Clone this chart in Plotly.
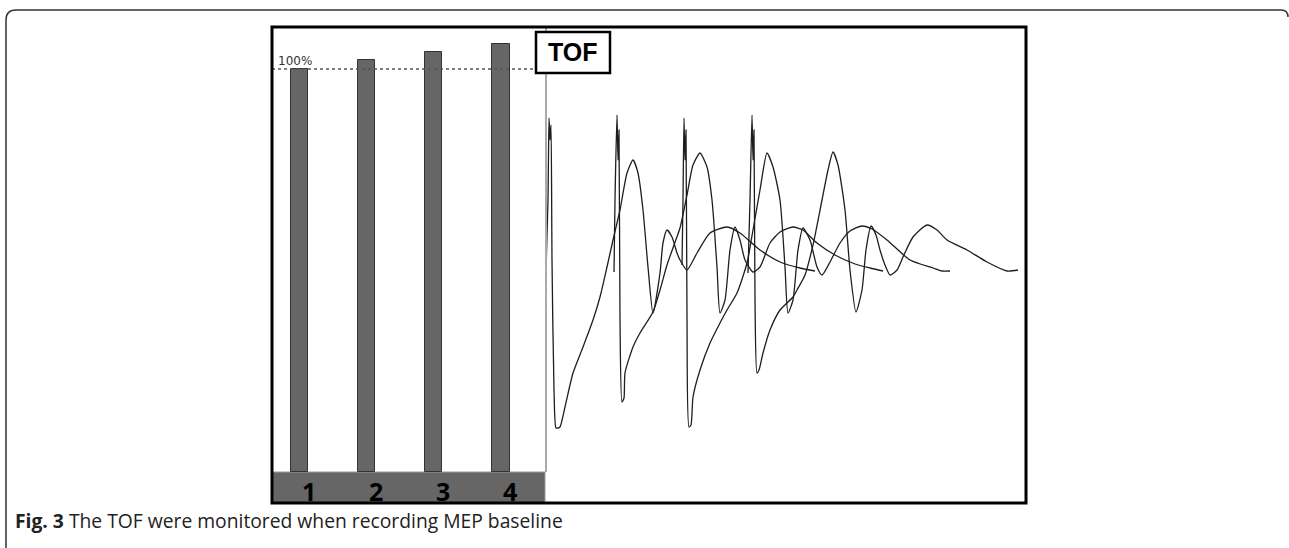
import plotly.graph_objects as go

W, H = 1289, 548

# ---------------- data ----------------
tof_labels = ["1", "2", "3", "4"]
tof_positions = [1, 2, 3, 4]
tof_percent = [100.0, 102.2, 104.2, 106.2]

# MEP waveforms (time in samples, amplitude in arbitrary units)
w1_t = [1, 3, 4, 5, 6, 7, 9, 11, 13, 15, 20, 28, 38, 48, 55, 62, 68, 75, 82, 88, 93, 98, 103, 108,
        115, 118, 122, 127, 132, 135, 142, 152, 165, 182, 195, 215, 235, 255, 270]
w1_v = [-2, 70, 152, 130, 145, 10, -120, -158, -158, -157, -137, -103, -77, -50, -27, 3, 30, 60, 97,
        110, 97, 60, 3, -43, -3, 27, 40, 33, 17, 10, 0, 17, 37, 43, 37, 20, 8, 2, -1]

w2_t = [69, 70, 72, 73, 74, 75, 77, 79, 80, 88, 95, 108, 115, 122, 129, 135, 142, 148, 155, 162, 167,
        172, 175, 180, 185, 190, 195, 200, 208, 215, 225, 235, 248, 258, 272, 290, 310, 325, 338]
w2_v = [-2, 70, 155, 110, 140, -50, -132, -128, -103, -77, -63, -42, -20, 5, 25, 42, 75, 105, 117, 103,
        70, 3, -43, -30, 20, 43, 30, 10, -2, 3, 27, 38, 43, 40, 27, 15, 6, 2, -1]

w3_t = [137, 138, 139, 140, 141, 142, 144, 146, 148, 155, 165, 175, 182, 192, 202, 208, 215, 222, 228,
        235, 240, 243, 248, 253, 258, 265, 272, 277, 285, 295, 305, 317, 327, 342, 365, 388, 397, 405]
w3_v = [5, 70, 152, 110, 140, -50, -157, -155, -127, -100, -73, -53, -40, -23, 7, 40, 80, 117, 103, 70,
        3, -43, -30, 20, 42, 30, 3, -5, 8, 27, 39, 44, 41, 30, 10, 2, -1, -1]

w4_t = [203, 205, 207, 208, 209, 210, 212, 214, 218, 225, 235, 248, 252, 260, 268, 277, 283, 288, 293,
        300, 305, 311, 317, 321, 326, 331, 335, 340, 345, 352, 358, 368, 382, 392, 402, 422, 442, 462, 473]
w4_v = [-3, 70, 155, 110, 140, -30, -103, -100, -83, -60, -40, -27, -20, -5, 25, 70, 100, 118, 105, 60,
        0, -42, -20, 20, 44, 35, 20, 5, -5, 0, 13, 33, 45, 40, 30, 20, 8, -1, 0]

waves = [(w1_t, w1_v), (w2_t, w2_v), (w3_t, w3_v), (w4_t, w4_v)]


# ---------------- helpers (pixel -> paper) ----------------
def px(x):
    return x / W


def py(y):
    return 1 - y / H


fig = go.Figure()

fig.add_trace(go.Bar(
    x=tof_positions, y=tof_percent, width=0.262,
    marker=dict(color="#666666", line=dict(color="#333333", width=1)),
    xaxis="x", yaxis="y", showlegend=False, hoverinfo="skip"))

for t, v in waves:
    fig.add_trace(go.Scatter(
        x=t, y=v, mode="lines",
        line=dict(color="#1e1e1e", width=1.3, shape="spline", smoothing=0.6),
        xaxis="x2", yaxis="y2", showlegend=False, hoverinfo="skip"))

shapes = []
# outer figure frame (rounded top corners, open bottom/right)
r = 10
frame_path = (f"M {px(6)},{py(548)} L {px(6)},{py(10 + r)} "
              f"Q {px(6)},{py(10)} {px(6 + r)},{py(10)} "
              f"L {px(1281)},{py(10)} Q {px(1288)},{py(10)} {px(1288)},{py(17)}")
shapes.append(dict(type="path", xref="paper", yref="paper", path=frame_path,
                   line=dict(color="#333333", width=1.5)))
# gray label band under the bars
shapes.append(dict(type="rect", xref="paper", yref="paper",
                   x0=px(272), x1=px(545), y0=py(503), y1=py(472),
                   fillcolor="#666666", line=dict(color="#999999", width=1), layer="below"))
# separator between bar panel and waveform panel
shapes.append(dict(type="line", xref="paper", yref="paper",
                   x0=px(546), x1=px(546), y0=py(472), y1=py(27),
                   line=dict(color="#aaaaaa", width=2)))
# 100% dotted reference line
shapes.append(dict(type="line", xref="paper", yref="y",
                   x0=px(272), x1=px(536), y0=100, y1=100,
                   line=dict(color="#555555", width=1.5, dash="dot")))
# main chart box
shapes.append(dict(type="rect", xref="paper", yref="paper",
                   x0=px(272), x1=px(1026), y0=py(503), y1=py(27),
                   line=dict(color="#000000", width=3)))
# TOF box
shapes.append(dict(type="rect", xref="paper", yref="paper",
                   x0=px(536), x1=px(610), y0=py(73), y1=py(32),
                   fillcolor="white", line=dict(color="#000000", width=2.5)))

annotations = []
annotations.append(dict(text="<b>TOF</b>", xref="paper", yref="paper", x=px(573), y=py(52),
                        showarrow=False, xanchor="center", yanchor="middle",
                        font=dict(family="Liberation Sans, Arial", size=25, color="#000000")))
annotations.append(dict(text="100%", xref="paper", yref="paper", x=px(276), y=py(61),
                        showarrow=False, xanchor="left", yanchor="middle",
                        font=dict(family="DejaVu Sans", size=12, color="#333333")))
for pos, lab in zip(tof_positions, tof_labels):
    annotations.append(dict(text=f"<b>{lab}</b>", xref="x", yref="paper", x=pos + 0.14, y=py(491),
                            showarrow=False, xanchor="center", yanchor="middle",
                            font=dict(family="Open Sans", size=25, color="#000000")))
annotations.append(dict(text="<b>Fig. 3</b> The TOF were monitored when recording MEP baseline",
                        xref="paper", yref="paper", x=px(13), y=py(520),
                        showarrow=False, xanchor="left", yanchor="middle",
                        font=dict(family="Open Sans", size=19.3, color="#222222")))

fig.update_layout(
    width=W, height=H,
    margin=dict(l=0, r=0, t=0, b=0),
    paper_bgcolor="white", plot_bgcolor="white",
    xaxis=dict(domain=[px(272), px(545)], range=[0.590, 4.659], visible=False),
    yaxis=dict(domain=[py(472), py(27)], range=[0, 110.4], visible=False),
    xaxis2=dict(domain=[px(545), px(1026)], range=[0, 481], visible=False, anchor="y2"),
    yaxis2=dict(domain=[py(503), py(27)], range=[-233, 243], visible=False, anchor="x2"),
    shapes=shapes, annotations=annotations,
    bargap=0, showlegend=False,
)

fig.write_html("out.html", config={"displayModeBar": False},
               post_script="document.body.style.margin='0px';")
